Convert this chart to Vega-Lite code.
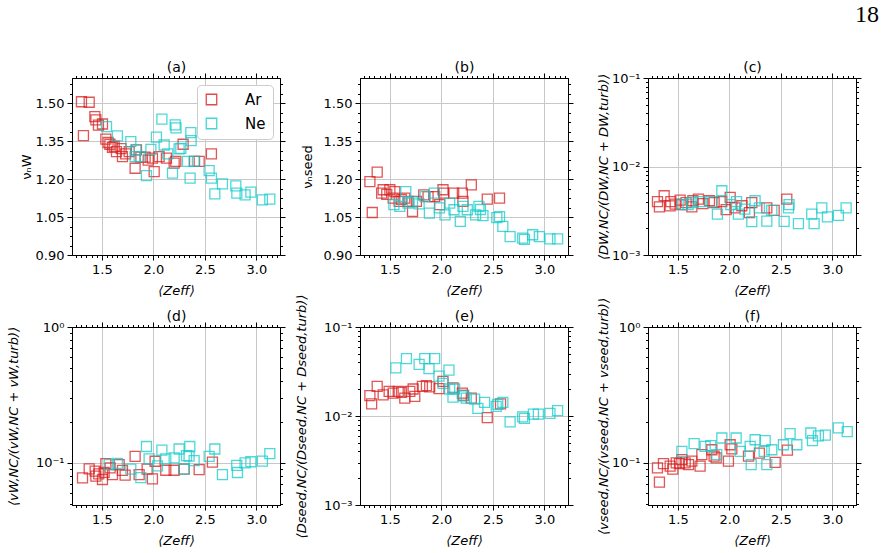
{
  "$schema": "https://vega.github.io/schema/vega-lite/v6.json",
  "padding": {"left": 6, "top": 3, "right": 0, "bottom": 0},
  "background": "white",
  "title": {"text": "18", "anchor": "end", "font": "Liberation Serif", "fontSize": 24, "fontWeight": "normal", "offset": 33, "dx": 17},
  "config": {
    "font": "DejaVu Sans",
    "view": {"stroke": "black", "strokeWidth": 1},
    "axis": {
      "labelFont": "DejaVu Sans", "labelFontSize": 13, "labelColor": "black",
      "titleFont": "DejaVu Sans", "titleFontSize": 13, "titleFontWeight": "normal", "titleColor": "black",
      "domainColor": "black", "domainWidth": 1, "tickColor": "black", "tickWidth": 1,
      "gridColor": "#c8c8c8", "gridWidth": 1, "labelPadding": 3
    }
  },
  "datasets": {
    "a": [
      {"z":1.302,"v":1.506,"gas":"Ar"},{"z":1.377,"v":1.504,"gas":"Ar"},{"z":1.321,"v":1.372,"gas":"Ar"},{"z":1.432,"v":1.447,"gas":"Ar"},{"z":1.442,"v":1.434,"gas":"Ar"},{"z":1.467,"v":1.414,"gas":"Ar"},{"z":1.506,"v":1.418,"gas":"Ar"},{"z":1.539,"v":1.358,"gas":"Ar"},{"z":1.56,"v":1.345,"gas":"Ar"},{"z":1.578,"v":1.338,"gas":"Ar"},{"z":1.603,"v":1.326,"gas":"Ar"},{"z":1.62,"v":1.33,"gas":"Ar"},{"z":1.642,"v":1.309,"gas":"Ar"},{"z":1.687,"v":1.321,"gas":"Ar"},{"z":1.700,"v":1.289,"gas":"Ar"},{"z":1.73,"v":1.30,"gas":"Ar"},{"z":1.765,"v":1.309,"gas":"Ar"},{"z":1.823,"v":1.243,"gas":"Ar"},{"z":1.836,"v":1.316,"gas":"Ar"},{"z":1.879,"v":1.287,"gas":"Ar"},{"z":1.920,"v":1.287,"gas":"Ar"},{"z":1.95,"v":1.275,"gas":"Ar"},{"z":1.991,"v":1.283,"gas":"Ar"},{"z":2.008,"v":1.230,"gas":"Ar"},{"z":2.056,"v":1.289,"gas":"Ar"},{"z":2.127,"v":1.283,"gas":"Ar"},{"z":2.202,"v":1.263,"gas":"Ar"},{"z":2.218,"v":1.270,"gas":"Ar"},{"z":2.289,"v":1.338,"gas":"Ar"},{"z":2.40,"v":1.27,"gas":"Ar"},{"z":2.445,"v":1.270,"gas":"Ar"},{"z":2.564,"v":1.300,"gas":"Ar"},
      {"z":1.545,"v":1.408,"gas":"Ne"},{"z":1.651,"v":1.371,"gas":"Ne"},{"z":1.781,"v":1.348,"gas":"Ne"},{"z":1.823,"v":1.289,"gas":"Ne"},{"z":1.830,"v":1.316,"gas":"Ne"},{"z":1.862,"v":1.289,"gas":"Ne"},{"z":1.933,"v":1.214,"gas":"Ne"},{"z":1.976,"v":1.318,"gas":"Ne"},{"z":2.030,"v":1.366,"gas":"Ne"},{"z":2.083,"v":1.437,"gas":"Ne"},{"z":2.105,"v":1.335,"gas":"Ne"},{"z":2.14,"v":1.30,"gas":"Ne"},{"z":2.186,"v":1.224,"gas":"Ne"},{"z":2.212,"v":1.415,"gas":"Ne"},{"z":2.220,"v":1.403,"gas":"Ne"},{"z":2.250,"v":1.320,"gas":"Ne"},{"z":2.267,"v":1.322,"gas":"Ne"},{"z":2.331,"v":1.270,"gas":"Ne"},{"z":2.357,"v":1.204,"gas":"Ne"},{"z":2.364,"v":1.384,"gas":"Ne"},{"z":2.367,"v":1.352,"gas":"Ne"},{"z":2.396,"v":1.270,"gas":"Ne"},{"z":2.542,"v":1.234,"gas":"Ne"},{"z":2.564,"v":1.204,"gas":"Ne"},{"z":2.597,"v":1.142,"gas":"Ne"},{"z":2.671,"v":1.181,"gas":"Ne"},{"z":2.801,"v":1.173,"gas":"Ne"},{"z":2.811,"v":1.145,"gas":"Ne"},{"z":2.891,"v":1.138,"gas":"Ne"},{"z":2.947,"v":1.149,"gas":"Ne"},{"z":3.059,"v":1.118,"gas":"Ne"},{"z":3.131,"v":1.121,"gas":"Ne"}
    ],
    "b": [
      {"z":1.306,"v":1.190,"gas":"Ar"},{"z":1.377,"v":1.228,"gas":"Ar"},{"z":1.329,"v":1.068,"gas":"Ar"},{"z":1.435,"v":1.158,"gas":"Ar"},{"z":1.420,"v":1.145,"gas":"Ar"},{"z":1.47,"v":1.14,"gas":"Ar"},{"z":1.500,"v":1.158,"gas":"Ar"},{"z":1.548,"v":1.151,"gas":"Ar"},{"z":1.532,"v":1.125,"gas":"Ar"},{"z":1.590,"v":1.112,"gas":"Ar"},{"z":1.61,"v":1.12,"gas":"Ar"},{"z":1.645,"v":1.125,"gas":"Ar"},{"z":1.677,"v":1.112,"gas":"Ar"},{"z":1.720,"v":1.072,"gas":"Ar"},{"z":1.758,"v":1.112,"gas":"Ar"},{"z":1.829,"v":1.138,"gas":"Ar"},{"z":1.871,"v":1.131,"gas":"Ar"},{"z":1.935,"v":1.131,"gas":"Ar"},{"z":1.984,"v":1.099,"gas":"Ar"},{"z":2.016,"v":1.158,"gas":"Ar"},{"z":2.023,"v":1.145,"gas":"Ar"},{"z":2.120,"v":1.145,"gas":"Ar"},{"z":2.204,"v":1.145,"gas":"Ar"},{"z":2.210,"v":1.112,"gas":"Ar"},{"z":2.291,"v":1.177,"gas":"Ar"},{"z":2.446,"v":1.121,"gas":"Ar"},{"z":2.565,"v":1.125,"gas":"Ar"},
      {"z":1.539,"v":1.099,"gas":"Ne"},{"z":1.597,"v":1.092,"gas":"Ne"},{"z":1.655,"v":1.151,"gas":"Ne"},{"z":1.677,"v":1.105,"gas":"Ne"},{"z":1.72,"v":1.11,"gas":"Ne"},{"z":1.784,"v":1.102,"gas":"Ne"},{"z":1.842,"v":1.131,"gas":"Ne"},{"z":1.884,"v":1.066,"gas":"Ne"},{"z":1.932,"v":1.145,"gas":"Ne"},{"z":1.981,"v":1.086,"gas":"Ne"},{"z":2.036,"v":1.059,"gas":"Ne"},{"z":2.081,"v":1.105,"gas":"Ne"},{"z":2.123,"v":1.079,"gas":"Ne"},{"z":2.184,"v":1.033,"gas":"Ne"},{"z":2.210,"v":1.092,"gas":"Ne"},{"z":2.252,"v":1.079,"gas":"Ne"},{"z":2.333,"v":1.059,"gas":"Ne"},{"z":2.365,"v":1.092,"gas":"Ne"},{"z":2.38,"v":1.08,"gas":"Ne"},{"z":2.404,"v":1.056,"gas":"Ne"},{"z":2.539,"v":1.048,"gas":"Ne"},{"z":2.565,"v":1.052,"gas":"Ne"},{"z":2.597,"v":1.013,"gas":"Ne"},{"z":2.668,"v":0.973,"gas":"Ne"},{"z":2.790,"v":0.967,"gas":"Ne"},{"z":2.807,"v":0.962,"gas":"Ne"},{"z":2.887,"v":0.980,"gas":"Ne"},{"z":2.952,"v":0.973,"gas":"Ne"},{"z":3.055,"v":0.964,"gas":"Ne"},{"z":3.129,"v":0.964,"gas":"Ne"}
    ],
    "c": [
      {"z":1.302,"v":0.00402,"gas":"Ar"},{"z":1.321,"v":0.0035,"gas":"Ar"},{"z":1.367,"v":0.00467,"gas":"Ar"},{"z":1.432,"v":0.00402,"gas":"Ar"},{"z":1.425,"v":0.00359,"gas":"Ar"},{"z":1.474,"v":0.00376,"gas":"Ar"},{"z":1.522,"v":0.00417,"gas":"Ar"},{"z":1.539,"v":0.0037,"gas":"Ar"},{"z":1.58,"v":0.0039,"gas":"Ar"},{"z":1.636,"v":0.0035,"gas":"Ar"},{"z":1.646,"v":0.0041,"gas":"Ar"},{"z":1.700,"v":0.00428,"gas":"Ar"},{"z":1.743,"v":0.0038,"gas":"Ar"},{"z":1.807,"v":0.0041,"gas":"Ar"},{"z":1.852,"v":0.0039,"gas":"Ar"},{"z":1.927,"v":0.0040,"gas":"Ar"},{"z":1.969,"v":0.00326,"gas":"Ar"},{"z":2.008,"v":0.00447,"gas":"Ar"},{"z":2.056,"v":0.0034,"gas":"Ar"},{"z":2.121,"v":0.0036,"gas":"Ar"},{"z":2.195,"v":0.00301,"gas":"Ar"},{"z":2.218,"v":0.0039,"gas":"Ar"},{"z":2.364,"v":0.0034,"gas":"Ar"},{"z":2.435,"v":0.0032,"gas":"Ar"},{"z":2.558,"v":0.00428,"gas":"Ar"},
      {"z":1.539,"v":0.0037,"gas":"Ne"},{"z":1.60,"v":0.0037,"gas":"Ne"},{"z":1.636,"v":0.0039,"gas":"Ne"},{"z":1.716,"v":0.0040,"gas":"Ne"},{"z":1.830,"v":0.0040,"gas":"Ne"},{"z":1.884,"v":0.00289,"gas":"Ne"},{"z":1.927,"v":0.00532,"gas":"Ne"},{"z":2.014,"v":0.0037,"gas":"Ne"},{"z":2.070,"v":0.0040,"gas":"Ne"},{"z":2.088,"v":0.0029,"gas":"Ne"},{"z":2.15,"v":0.0033,"gas":"Ne"},{"z":2.218,"v":0.00238,"gas":"Ne"},{"z":2.250,"v":0.0041,"gas":"Ne"},{"z":2.292,"v":0.0034,"gas":"Ne"},{"z":2.364,"v":0.00242,"gas":"Ne"},{"z":2.412,"v":0.0032,"gas":"Ne"},{"z":2.532,"v":0.0024,"gas":"Ne"},{"z":2.574,"v":0.0034,"gas":"Ne"},{"z":2.580,"v":0.0037,"gas":"Ne"},{"z":2.671,"v":0.00226,"gas":"Ne"},{"z":2.800,"v":0.0029,"gas":"Ne"},{"z":2.823,"v":0.00226,"gas":"Ne"},{"z":2.898,"v":0.0034,"gas":"Ne"},{"z":2.953,"v":0.0027,"gas":"Ne"},{"z":3.059,"v":0.0028,"gas":"Ne"},{"z":3.134,"v":0.0034,"gas":"Ne"}
    ],
    "d": [
      {"z":1.312,"v":0.0776,"gas":"Ar"},{"z":1.377,"v":0.0903,"gas":"Ar"},{"z":1.435,"v":0.0869,"gas":"Ar"},{"z":1.442,"v":0.0798,"gas":"Ar"},{"z":1.47,"v":0.083,"gas":"Ar"},{"z":1.506,"v":0.0755,"gas":"Ar"},{"z":1.522,"v":0.0853,"gas":"Ar"},{"z":1.539,"v":0.0988,"gas":"Ar"},{"z":1.58,"v":0.092,"gas":"Ar"},{"z":1.603,"v":0.082,"gas":"Ar"},{"z":1.668,"v":0.0972,"gas":"Ar"},{"z":1.70,"v":0.088,"gas":"Ar"},{"z":1.726,"v":0.0813,"gas":"Ar"},{"z":1.823,"v":0.1117,"gas":"Ar"},{"z":1.862,"v":0.082,"gas":"Ar"},{"z":1.94,"v":0.09,"gas":"Ar"},{"z":1.991,"v":0.0764,"gas":"Ar"},{"z":2.017,"v":0.1028,"gas":"Ar"},{"z":2.121,"v":0.0883,"gas":"Ar"},{"z":2.202,"v":0.0883,"gas":"Ar"},{"z":2.299,"v":0.090,"gas":"Ar"},{"z":2.445,"v":0.0893,"gas":"Ar"},{"z":2.574,"v":0.1014,"gas":"Ar"},
      {"z":1.571,"v":0.097,"gas":"Ne"},{"z":1.651,"v":0.099,"gas":"Ne"},{"z":1.781,"v":0.090,"gas":"Ne"},{"z":1.879,"v":0.078,"gas":"Ne"},{"z":1.933,"v":0.132,"gas":"Ne"},{"z":1.959,"v":0.107,"gas":"Ne"},{"z":2.040,"v":0.095,"gas":"Ne"},{"z":2.083,"v":0.124,"gas":"Ne"},{"z":2.121,"v":0.107,"gas":"Ne"},{"z":2.202,"v":0.109,"gas":"Ne"},{"z":2.250,"v":0.1265,"gas":"Ne"},{"z":2.299,"v":0.090,"gas":"Ne"},{"z":2.322,"v":0.113,"gas":"Ne"},{"z":2.347,"v":0.112,"gas":"Ne"},{"z":2.354,"v":0.132,"gas":"Ne"},{"z":2.396,"v":0.104,"gas":"Ne"},{"z":2.542,"v":0.1117,"gas":"Ne"},{"z":2.597,"v":0.1265,"gas":"Ne"},{"z":2.671,"v":0.082,"gas":"Ne"},{"z":2.810,"v":0.096,"gas":"Ne"},{"z":2.817,"v":0.085,"gas":"Ne"},{"z":2.891,"v":0.100,"gas":"Ne"},{"z":2.947,"v":0.102,"gas":"Ne"},{"z":3.059,"v":0.103,"gas":"Ne"},{"z":3.131,"v":0.117,"gas":"Ne"}
    ],
    "e": [
      {"z":1.306,"v":0.0169,"gas":"Ar"},{"z":1.323,"v":0.0137,"gas":"Ar"},{"z":1.377,"v":0.0215,"gas":"Ar"},{"z":1.435,"v":0.0173,"gas":"Ar"},{"z":1.493,"v":0.0189,"gas":"Ar"},{"z":1.532,"v":0.0181,"gas":"Ar"},{"z":1.581,"v":0.0189,"gas":"Ar"},{"z":1.613,"v":0.0184,"gas":"Ar"},{"z":1.645,"v":0.0159,"gas":"Ar"},{"z":1.694,"v":0.0189,"gas":"Ar"},{"z":1.726,"v":0.0201,"gas":"Ar"},{"z":1.742,"v":0.0166,"gas":"Ar"},{"z":1.816,"v":0.0215,"gas":"Ar"},{"z":1.855,"v":0.0219,"gas":"Ar"},{"z":1.887,"v":0.0212,"gas":"Ar"},{"z":1.977,"v":0.0203,"gas":"Ar"},{"z":2.016,"v":0.0245,"gas":"Ar"},{"z":2.113,"v":0.0207,"gas":"Ar"},{"z":2.204,"v":0.0181,"gas":"Ar"},{"z":2.216,"v":0.017,"gas":"Ar"},{"z":2.291,"v":0.0159,"gas":"Ar"},{"z":2.446,"v":0.0096,"gas":"Ar"},{"z":2.575,"v":0.0137,"gas":"Ar"},
      {"z":1.558,"v":0.0348,"gas":"Ne"},{"z":1.661,"v":0.0441,"gas":"Ne"},{"z":1.784,"v":0.038,"gas":"Ne"},{"z":1.839,"v":0.0441,"gas":"Ne"},{"z":1.880,"v":0.034,"gas":"Ne"},{"z":1.935,"v":0.0441,"gas":"Ne"},{"z":1.977,"v":0.028,"gas":"Ne"},{"z":2.016,"v":0.0232,"gas":"Ne"},{"z":2.074,"v":0.0327,"gas":"Ne"},{"z":2.081,"v":0.0201,"gas":"Ne"},{"z":2.113,"v":0.0163,"gas":"Ne"},{"z":2.129,"v":0.0201,"gas":"Ne"},{"z":2.210,"v":0.017,"gas":"Ne"},{"z":2.242,"v":0.0159,"gas":"Ne"},{"z":2.323,"v":0.0155,"gas":"Ne"},{"z":2.355,"v":0.0122,"gas":"Ne"},{"z":2.420,"v":0.0142,"gas":"Ne"},{"z":2.533,"v":0.0128,"gas":"Ne"},{"z":2.548,"v":0.0135,"gas":"Ne"},{"z":2.597,"v":0.0142,"gas":"Ne"},{"z":2.668,"v":0.0086,"gas":"Ne"},{"z":2.790,"v":0.0098,"gas":"Ne"},{"z":2.807,"v":0.0094,"gas":"Ne"},{"z":2.894,"v":0.0105,"gas":"Ne"},{"z":2.942,"v":0.0105,"gas":"Ne"},{"z":3.055,"v":0.0107,"gas":"Ne"},{"z":3.129,"v":0.0115,"gas":"Ne"}
    ],
    "f": [
      {"z":1.302,"v":0.0919,"gas":"Ar"},{"z":1.321,"v":0.0721,"gas":"Ar"},{"z":1.360,"v":0.0988,"gas":"Ar"},{"z":1.425,"v":0.0947,"gas":"Ar"},{"z":1.451,"v":0.090,"gas":"Ar"},{"z":1.484,"v":0.100,"gas":"Ar"},{"z":1.516,"v":0.0988,"gas":"Ar"},{"z":1.539,"v":0.1058,"gas":"Ar"},{"z":1.571,"v":0.100,"gas":"Ar"},{"z":1.603,"v":0.097,"gas":"Ar"},{"z":1.636,"v":0.103,"gas":"Ar"},{"z":1.716,"v":0.0947,"gas":"Ar"},{"z":1.733,"v":0.115,"gas":"Ar"},{"z":1.830,"v":0.125,"gas":"Ar"},{"z":1.852,"v":0.112,"gas":"Ar"},{"z":1.872,"v":0.109,"gas":"Ar"},{"z":1.991,"v":0.103,"gas":"Ar"},{"z":2.008,"v":0.136,"gas":"Ar"},{"z":2.024,"v":0.127,"gas":"Ar"},{"z":2.186,"v":0.112,"gas":"Ar"},{"z":2.292,"v":0.118,"gas":"Ar"},{"z":2.445,"v":0.101,"gas":"Ar"},{"z":2.564,"v":0.124,"gas":"Ar"},
      {"z":1.539,"v":0.1216,"gas":"Ne"},{"z":1.658,"v":0.1385,"gas":"Ne"},{"z":1.765,"v":0.1325,"gas":"Ne"},{"z":1.820,"v":0.134,"gas":"Ne"},{"z":1.878,"v":0.115,"gas":"Ne"},{"z":1.927,"v":0.1525,"gas":"Ne"},{"z":2.066,"v":0.1525,"gas":"Ne"},{"z":2.105,"v":0.1216,"gas":"Ne"},{"z":2.202,"v":0.1325,"gas":"Ne"},{"z":2.212,"v":0.097,"gas":"Ne"},{"z":2.250,"v":0.148,"gas":"Ne"},{"z":2.338,"v":0.1216,"gas":"Ne"},{"z":2.348,"v":0.146,"gas":"Ne"},{"z":2.364,"v":0.097,"gas":"Ne"},{"z":2.412,"v":0.125,"gas":"Ne"},{"z":2.525,"v":0.136,"gas":"Ne"},{"z":2.590,"v":0.164,"gas":"Ne"},{"z":2.655,"v":0.136,"gas":"Ne"},{"z":2.791,"v":0.166,"gas":"Ne"},{"z":2.807,"v":0.146,"gas":"Ne"},{"z":2.865,"v":0.158,"gas":"Ne"},{"z":2.932,"v":0.160,"gas":"Ne"},{"z":3.058,"v":0.181,"gas":"Ne"},{"z":3.145,"v":0.170,"gas":"Ne"}
    ]
  },
  "columns": 3,
  "spacing": {"row": 72, "column": 80},
  "bounds": "flush",
  "resolve": {"scale": {"color": "independent"}, "legend": {"color": "independent"}},
  "concat": [
    {
      "width": 208, "height": 177, "data": {"name": "a"},
      "resolve": {"axis": {"x": "independent", "y": "independent"}},
      "layer": [
        {
          "mark": {"type": "point", "shape": "square", "filled": false, "size": 100, "strokeWidth": 1.3, "opacity": 0.75},
          "encoding": {
            "x": {"field": "z", "type": "quantitative", "scale": {"domain": [1.21, 3.23], "nice": false, "zero": false},
              "axis": {"title": "⟨Zeff⟩", "titleFontStyle": "italic", "titlePadding": 8, "values": [1.25,1.3,1.35,1.4,1.45,1.5,1.55,1.6,1.65,1.7,1.75,1.8,1.85,1.9,1.95,2,2.05,2.1,2.15,2.2,2.25,2.3,2.35,2.4,2.45,2.5,2.55,2.6,2.65,2.7,2.75,2.8,2.85,2.9,2.95,3,3.05,3.1,3.15,3.2],
                "labelExpr": "abs(datum.value*2 - round(datum.value*2)) < 0.01 ? format(datum.value, '.1f') : ''", "labelOverlap": false, "labelFlush": false, "grid": true,
                "gridOpacity": {"condition": {"test": "abs(datum.value*2 - round(datum.value*2)) < 0.01", "value": 1}, "value": 0},
                "tickSize": {"condition": {"test": "abs(datum.value*2 - round(datum.value*2)) < 0.01", "value": 5}, "value": 2.5}}},
            "y": {"field": "v", "type": "quantitative", "scale": {"domain": [0.9, 1.6], "nice": false, "zero": false},
              "axis": {"title": "νₙW", "titleX": -39, "values": [0.9,0.9375,0.975,1.0125,1.05,1.0875,1.125,1.1625,1.2,1.2375,1.275,1.3125,1.35,1.3875,1.425,1.4625,1.5,1.5375,1.575],
                "labelExpr": "abs((datum.value-0.9)/0.15 - round((datum.value-0.9)/0.15)) < 0.01 ? format(datum.value, '.2f') : ''", "labelOverlap": false, "labelFlush": false, "grid": true,
                "gridOpacity": {"condition": {"test": "abs((datum.value-0.9)/0.15 - round((datum.value-0.9)/0.15)) < 0.01", "value": 1}, "value": 0},
                "tickSize": {"condition": {"test": "abs((datum.value-0.9)/0.15 - round((datum.value-0.9)/0.15)) < 0.01", "value": 5}, "value": 2.5}}},
            "color": {"field": "gas", "type": "nominal", "scale": {"domain": ["Ar", "Ne"], "range": ["#d81e1e", "#14cccc"]},
              "legend": {"title": null, "orient": "top-right", "offset": 7, "fillColor": "white", "strokeColor": "#cccccc", "cornerRadius": 4, "padding": 7, "labelFontSize": 15, "labelFont": "DejaVu Sans", "labelOffset": 26, "symbolSize": 110, "symbolStrokeWidth": 1.3, "symbolOpacity": 0.8, "rowPadding": 7}}
          }
        },
        {
          "mark": {"type": "point", "opacity": 0},
          "encoding": {
            "x": {"field": "z", "type": "quantitative", "scale": {"domain": [1.21, 3.23], "nice": false, "zero": false},
              "axis": {"orient": "top", "title": "(a)", "titleFontSize": 14, "titlePadding": -2, "labels": false, "grid": false, "values": [1.25,1.3,1.35,1.4,1.45,1.5,1.55,1.6,1.65,1.7,1.75,1.8,1.85,1.9,1.95,2,2.05,2.1,2.15,2.2,2.25,2.3,2.35,2.4,2.45,2.5,2.55,2.6,2.65,2.7,2.75,2.8,2.85,2.9,2.95,3,3.05,3.1,3.15,3.2],
                "tickSize": {"condition": {"test": "abs(datum.value*2 - round(datum.value*2)) < 0.01", "value": 5}, "value": 2.5}}},
            "y": {"field": "v", "type": "quantitative", "scale": {"domain": [0.9, 1.6], "nice": false, "zero": false},
              "axis": {"orient": "right", "title": null, "labels": false, "grid": false, "values": [0.9,0.9375,0.975,1.0125,1.05,1.0875,1.125,1.1625,1.2,1.2375,1.275,1.3125,1.35,1.3875,1.425,1.4625,1.5,1.5375,1.575],
                "tickSize": {"condition": {"test": "abs((datum.value-0.9)/0.15 - round((datum.value-0.9)/0.15)) < 0.01", "value": 5}, "value": 2.5}}}
          }
        }
      ]
    },
    {
      "width": 208, "height": 177, "data": {"name": "b"},
      "resolve": {"axis": {"x": "independent", "y": "independent"}},
      "layer": [
        {
          "mark": {"type": "point", "shape": "square", "filled": false, "size": 100, "strokeWidth": 1.3, "opacity": 0.75},
          "encoding": {
            "x": {"field": "z", "type": "quantitative", "scale": {"domain": [1.21, 3.23], "nice": false, "zero": false},
              "axis": {"title": "⟨Zeff⟩", "titleFontStyle": "italic", "titlePadding": 8, "values": [1.25,1.3,1.35,1.4,1.45,1.5,1.55,1.6,1.65,1.7,1.75,1.8,1.85,1.9,1.95,2,2.05,2.1,2.15,2.2,2.25,2.3,2.35,2.4,2.45,2.5,2.55,2.6,2.65,2.7,2.75,2.8,2.85,2.9,2.95,3,3.05,3.1,3.15,3.2],
                "labelExpr": "abs(datum.value*2 - round(datum.value*2)) < 0.01 ? format(datum.value, '.1f') : ''", "labelOverlap": false, "labelFlush": false, "grid": true,
                "gridOpacity": {"condition": {"test": "abs(datum.value*2 - round(datum.value*2)) < 0.01", "value": 1}, "value": 0},
                "tickSize": {"condition": {"test": "abs(datum.value*2 - round(datum.value*2)) < 0.01", "value": 5}, "value": 2.5}}},
            "y": {"field": "v", "type": "quantitative", "scale": {"domain": [0.9, 1.6], "nice": false, "zero": false},
              "axis": {"title": "νₙseed", "titleX": -46, "values": [0.9,0.9375,0.975,1.0125,1.05,1.0875,1.125,1.1625,1.2,1.2375,1.275,1.3125,1.35,1.3875,1.425,1.4625,1.5,1.5375,1.575],
                "labelExpr": "abs((datum.value-0.9)/0.15 - round((datum.value-0.9)/0.15)) < 0.01 ? format(datum.value, '.2f') : ''", "labelOverlap": false, "labelFlush": false, "grid": true,
                "gridOpacity": {"condition": {"test": "abs((datum.value-0.9)/0.15 - round((datum.value-0.9)/0.15)) < 0.01", "value": 1}, "value": 0},
                "tickSize": {"condition": {"test": "abs((datum.value-0.9)/0.15 - round((datum.value-0.9)/0.15)) < 0.01", "value": 5}, "value": 2.5}}},
            "color": {"field": "gas", "type": "nominal", "scale": {"domain": ["Ar", "Ne"], "range": ["#d81e1e", "#14cccc"]}, "legend": null}
          }
        },
        {
          "mark": {"type": "point", "opacity": 0},
          "encoding": {
            "x": {"field": "z", "type": "quantitative", "scale": {"domain": [1.21, 3.23], "nice": false, "zero": false},
              "axis": {"orient": "top", "title": "(b)", "titleFontSize": 14, "titlePadding": -2, "labels": false, "grid": false, "values": [1.25,1.3,1.35,1.4,1.45,1.5,1.55,1.6,1.65,1.7,1.75,1.8,1.85,1.9,1.95,2,2.05,2.1,2.15,2.2,2.25,2.3,2.35,2.4,2.45,2.5,2.55,2.6,2.65,2.7,2.75,2.8,2.85,2.9,2.95,3,3.05,3.1,3.15,3.2],
                "tickSize": {"condition": {"test": "abs(datum.value*2 - round(datum.value*2)) < 0.01", "value": 5}, "value": 2.5}}},
            "y": {"field": "v", "type": "quantitative", "scale": {"domain": [0.9, 1.6], "nice": false, "zero": false},
              "axis": {"orient": "right", "title": null, "labels": false, "grid": false, "values": [0.9,0.9375,0.975,1.0125,1.05,1.0875,1.125,1.1625,1.2,1.2375,1.275,1.3125,1.35,1.3875,1.425,1.4625,1.5,1.5375,1.575],
                "tickSize": {"condition": {"test": "abs((datum.value-0.9)/0.15 - round((datum.value-0.9)/0.15)) < 0.01", "value": 5}, "value": 2.5}}}
          }
        }
      ]
    },
    {
      "width": 208, "height": 177, "data": {"name": "c"},
      "resolve": {"axis": {"x": "independent", "y": "independent"}},
      "layer": [
        {
          "mark": {"type": "point", "shape": "square", "filled": false, "size": 100, "strokeWidth": 1.3, "opacity": 0.75},
          "encoding": {
            "x": {"field": "z", "type": "quantitative", "scale": {"domain": [1.21, 3.23], "nice": false, "zero": false},
              "axis": {"title": "⟨Zeff⟩", "titleFontStyle": "italic", "titlePadding": 8, "values": [1.25,1.3,1.35,1.4,1.45,1.5,1.55,1.6,1.65,1.7,1.75,1.8,1.85,1.9,1.95,2,2.05,2.1,2.15,2.2,2.25,2.3,2.35,2.4,2.45,2.5,2.55,2.6,2.65,2.7,2.75,2.8,2.85,2.9,2.95,3,3.05,3.1,3.15,3.2],
                "labelExpr": "abs(datum.value*2 - round(datum.value*2)) < 0.01 ? format(datum.value, '.1f') : ''", "labelOverlap": false, "labelFlush": false, "grid": true,
                "gridOpacity": {"condition": {"test": "abs(datum.value*2 - round(datum.value*2)) < 0.01", "value": 1}, "value": 0},
                "tickSize": {"condition": {"test": "abs(datum.value*2 - round(datum.value*2)) < 0.01", "value": 5}, "value": 2.5}}},
            "y": {"field": "v", "type": "quantitative", "scale": {"type": "log", "domain": [0.001, 0.1], "nice": false},
              "axis": {"title": "⟨DW,NC/(DW,NC + DW,turb)⟩", "titleFontStyle": "italic", "titleX": -38, "values": [0.001,0.002,0.003,0.004,0.005,0.006,0.007,0.008,0.009,0.01,0.02,0.03,0.04,0.05,0.06,0.07,0.08,0.09,0.1],
                "labelExpr": "abs(log(datum.value)/LN10 - round(log(datum.value)/LN10)) < 0.01 ? '10' + ['⁰','⁻¹','⁻²','⁻³'][-round(log(datum.value)/LN10)] : ''", "labelOverlap": false, "labelFlush": false, "grid": true,
                "gridOpacity": {"condition": {"test": "abs(log(datum.value)/LN10 - round(log(datum.value)/LN10)) < 0.01", "value": 1}, "value": 0},
                "tickSize": {"condition": {"test": "abs(log(datum.value)/LN10 - round(log(datum.value)/LN10)) < 0.01", "value": 5}, "value": 2.5}}},
            "color": {"field": "gas", "type": "nominal", "scale": {"domain": ["Ar", "Ne"], "range": ["#d81e1e", "#14cccc"]}, "legend": null}
          }
        },
        {
          "mark": {"type": "point", "opacity": 0},
          "encoding": {
            "x": {"field": "z", "type": "quantitative", "scale": {"domain": [1.21, 3.23], "nice": false, "zero": false},
              "axis": {"orient": "top", "title": "(c)", "titleFontSize": 14, "titlePadding": -2, "labels": false, "grid": false, "values": [1.25,1.3,1.35,1.4,1.45,1.5,1.55,1.6,1.65,1.7,1.75,1.8,1.85,1.9,1.95,2,2.05,2.1,2.15,2.2,2.25,2.3,2.35,2.4,2.45,2.5,2.55,2.6,2.65,2.7,2.75,2.8,2.85,2.9,2.95,3,3.05,3.1,3.15,3.2],
                "tickSize": {"condition": {"test": "abs(datum.value*2 - round(datum.value*2)) < 0.01", "value": 5}, "value": 2.5}}},
            "y": {"field": "v", "type": "quantitative", "scale": {"type": "log", "domain": [0.001, 0.1], "nice": false},
              "axis": {"orient": "right", "title": null, "labels": false, "grid": false, "values": [0.001,0.002,0.003,0.004,0.005,0.006,0.007,0.008,0.009,0.01,0.02,0.03,0.04,0.05,0.06,0.07,0.08,0.09,0.1],
                "tickSize": {"condition": {"test": "abs(log(datum.value)/LN10 - round(log(datum.value)/LN10)) < 0.01", "value": 5}, "value": 2.5}}}
          }
        }
      ]
    },
    {
      "width": 208, "height": 178, "data": {"name": "d"},
      "resolve": {"axis": {"x": "independent", "y": "independent"}},
      "layer": [
        {
          "mark": {"type": "point", "shape": "square", "filled": false, "size": 100, "strokeWidth": 1.3, "opacity": 0.75},
          "encoding": {
            "x": {"field": "z", "type": "quantitative", "scale": {"domain": [1.21, 3.23], "nice": false, "zero": false},
              "axis": {"title": "⟨Zeff⟩", "titleFontStyle": "italic", "titlePadding": 8, "values": [1.25,1.3,1.35,1.4,1.45,1.5,1.55,1.6,1.65,1.7,1.75,1.8,1.85,1.9,1.95,2,2.05,2.1,2.15,2.2,2.25,2.3,2.35,2.4,2.45,2.5,2.55,2.6,2.65,2.7,2.75,2.8,2.85,2.9,2.95,3,3.05,3.1,3.15,3.2],
                "labelExpr": "abs(datum.value*2 - round(datum.value*2)) < 0.01 ? format(datum.value, '.1f') : ''", "labelOverlap": false, "labelFlush": false, "grid": true,
                "gridOpacity": {"condition": {"test": "abs(datum.value*2 - round(datum.value*2)) < 0.01", "value": 1}, "value": 0},
                "tickSize": {"condition": {"test": "abs(datum.value*2 - round(datum.value*2)) < 0.01", "value": 5}, "value": 2.5}}},
            "y": {"field": "v", "type": "quantitative", "scale": {"type": "log", "domain": [0.049, 1], "nice": false},
              "axis": {"title": "⟨vW,NC/(vW,NC + vW,turb)⟩", "titleFontStyle": "italic", "titleX": -52, "values": [0.05,0.06,0.07,0.08,0.09,0.1,0.2,0.3,0.4,0.5,0.6,0.7,0.8,0.9,1],
                "labelExpr": "abs(log(datum.value)/LN10 - round(log(datum.value)/LN10)) < 0.01 ? '10' + ['⁰','⁻¹','⁻²','⁻³'][-round(log(datum.value)/LN10)] : ''", "labelOverlap": false, "labelFlush": false, "grid": true,
                "gridOpacity": {"condition": {"test": "abs(log(datum.value)/LN10 - round(log(datum.value)/LN10)) < 0.01", "value": 1}, "value": 0},
                "tickSize": {"condition": {"test": "abs(log(datum.value)/LN10 - round(log(datum.value)/LN10)) < 0.01", "value": 5}, "value": 2.5}}},
            "color": {"field": "gas", "type": "nominal", "scale": {"domain": ["Ar", "Ne"], "range": ["#d81e1e", "#14cccc"]}, "legend": null}
          }
        },
        {
          "mark": {"type": "point", "opacity": 0},
          "encoding": {
            "x": {"field": "z", "type": "quantitative", "scale": {"domain": [1.21, 3.23], "nice": false, "zero": false},
              "axis": {"orient": "top", "title": "(d)", "titleFontSize": 14, "titlePadding": -2, "labels": false, "grid": false, "values": [1.25,1.3,1.35,1.4,1.45,1.5,1.55,1.6,1.65,1.7,1.75,1.8,1.85,1.9,1.95,2,2.05,2.1,2.15,2.2,2.25,2.3,2.35,2.4,2.45,2.5,2.55,2.6,2.65,2.7,2.75,2.8,2.85,2.9,2.95,3,3.05,3.1,3.15,3.2],
                "tickSize": {"condition": {"test": "abs(datum.value*2 - round(datum.value*2)) < 0.01", "value": 5}, "value": 2.5}}},
            "y": {"field": "v", "type": "quantitative", "scale": {"type": "log", "domain": [0.049, 1], "nice": false},
              "axis": {"orient": "right", "title": null, "labels": false, "grid": false, "values": [0.05,0.06,0.07,0.08,0.09,0.1,0.2,0.3,0.4,0.5,0.6,0.7,0.8,0.9,1],
                "tickSize": {"condition": {"test": "abs(log(datum.value)/LN10 - round(log(datum.value)/LN10)) < 0.01", "value": 5}, "value": 2.5}}}
          }
        }
      ]
    },
    {
      "width": 208, "height": 178, "data": {"name": "e"},
      "resolve": {"axis": {"x": "independent", "y": "independent"}},
      "layer": [
        {
          "mark": {"type": "point", "shape": "square", "filled": false, "size": 100, "strokeWidth": 1.3, "opacity": 0.75},
          "encoding": {
            "x": {"field": "z", "type": "quantitative", "scale": {"domain": [1.21, 3.23], "nice": false, "zero": false},
              "axis": {"title": "⟨Zeff⟩", "titleFontStyle": "italic", "titlePadding": 8, "values": [1.25,1.3,1.35,1.4,1.45,1.5,1.55,1.6,1.65,1.7,1.75,1.8,1.85,1.9,1.95,2,2.05,2.1,2.15,2.2,2.25,2.3,2.35,2.4,2.45,2.5,2.55,2.6,2.65,2.7,2.75,2.8,2.85,2.9,2.95,3,3.05,3.1,3.15,3.2],
                "labelExpr": "abs(datum.value*2 - round(datum.value*2)) < 0.01 ? format(datum.value, '.1f') : ''", "labelOverlap": false, "labelFlush": false, "grid": true,
                "gridOpacity": {"condition": {"test": "abs(datum.value*2 - round(datum.value*2)) < 0.01", "value": 1}, "value": 0},
                "tickSize": {"condition": {"test": "abs(datum.value*2 - round(datum.value*2)) < 0.01", "value": 5}, "value": 2.5}}},
            "y": {"field": "v", "type": "quantitative", "scale": {"type": "log", "domain": [0.001, 0.1], "nice": false},
              "axis": {"title": "⟨Dseed,NC/(Dseed,NC + Dseed,turb)⟩", "titleFontStyle": "italic", "titleX": -52, "values": [0.001,0.002,0.003,0.004,0.005,0.006,0.007,0.008,0.009,0.01,0.02,0.03,0.04,0.05,0.06,0.07,0.08,0.09,0.1],
                "labelExpr": "abs(log(datum.value)/LN10 - round(log(datum.value)/LN10)) < 0.01 ? '10' + ['⁰','⁻¹','⁻²','⁻³'][-round(log(datum.value)/LN10)] : ''", "labelOverlap": false, "labelFlush": false, "grid": true,
                "gridOpacity": {"condition": {"test": "abs(log(datum.value)/LN10 - round(log(datum.value)/LN10)) < 0.01", "value": 1}, "value": 0},
                "tickSize": {"condition": {"test": "abs(log(datum.value)/LN10 - round(log(datum.value)/LN10)) < 0.01", "value": 5}, "value": 2.5}}},
            "color": {"field": "gas", "type": "nominal", "scale": {"domain": ["Ar", "Ne"], "range": ["#d81e1e", "#14cccc"]}, "legend": null}
          }
        },
        {
          "mark": {"type": "point", "opacity": 0},
          "encoding": {
            "x": {"field": "z", "type": "quantitative", "scale": {"domain": [1.21, 3.23], "nice": false, "zero": false},
              "axis": {"orient": "top", "title": "(e)", "titleFontSize": 14, "titlePadding": -2, "labels": false, "grid": false, "values": [1.25,1.3,1.35,1.4,1.45,1.5,1.55,1.6,1.65,1.7,1.75,1.8,1.85,1.9,1.95,2,2.05,2.1,2.15,2.2,2.25,2.3,2.35,2.4,2.45,2.5,2.55,2.6,2.65,2.7,2.75,2.8,2.85,2.9,2.95,3,3.05,3.1,3.15,3.2],
                "tickSize": {"condition": {"test": "abs(datum.value*2 - round(datum.value*2)) < 0.01", "value": 5}, "value": 2.5}}},
            "y": {"field": "v", "type": "quantitative", "scale": {"type": "log", "domain": [0.001, 0.1], "nice": false},
              "axis": {"orient": "right", "title": null, "labels": false, "grid": false, "values": [0.001,0.002,0.003,0.004,0.005,0.006,0.007,0.008,0.009,0.01,0.02,0.03,0.04,0.05,0.06,0.07,0.08,0.09,0.1],
                "tickSize": {"condition": {"test": "abs(log(datum.value)/LN10 - round(log(datum.value)/LN10)) < 0.01", "value": 5}, "value": 2.5}}}
          }
        }
      ]
    },
    {
      "width": 208, "height": 178, "data": {"name": "f"},
      "resolve": {"axis": {"x": "independent", "y": "independent"}},
      "layer": [
        {
          "mark": {"type": "point", "shape": "square", "filled": false, "size": 100, "strokeWidth": 1.3, "opacity": 0.75},
          "encoding": {
            "x": {"field": "z", "type": "quantitative", "scale": {"domain": [1.21, 3.23], "nice": false, "zero": false},
              "axis": {"title": "⟨Zeff⟩", "titleFontStyle": "italic", "titlePadding": 8, "values": [1.25,1.3,1.35,1.4,1.45,1.5,1.55,1.6,1.65,1.7,1.75,1.8,1.85,1.9,1.95,2,2.05,2.1,2.15,2.2,2.25,2.3,2.35,2.4,2.45,2.5,2.55,2.6,2.65,2.7,2.75,2.8,2.85,2.9,2.95,3,3.05,3.1,3.15,3.2],
                "labelExpr": "abs(datum.value*2 - round(datum.value*2)) < 0.01 ? format(datum.value, '.1f') : ''", "labelOverlap": false, "labelFlush": false, "grid": true,
                "gridOpacity": {"condition": {"test": "abs(datum.value*2 - round(datum.value*2)) < 0.01", "value": 1}, "value": 0},
                "tickSize": {"condition": {"test": "abs(datum.value*2 - round(datum.value*2)) < 0.01", "value": 5}, "value": 2.5}}},
            "y": {"field": "v", "type": "quantitative", "scale": {"type": "log", "domain": [0.049, 1], "nice": false},
              "axis": {"title": "⟨vseed,NC/(vseed,NC + vseed,turb)⟩", "titleFontStyle": "italic", "titleX": -38, "values": [0.05,0.06,0.07,0.08,0.09,0.1,0.2,0.3,0.4,0.5,0.6,0.7,0.8,0.9,1],
                "labelExpr": "abs(log(datum.value)/LN10 - round(log(datum.value)/LN10)) < 0.01 ? '10' + ['⁰','⁻¹','⁻²','⁻³'][-round(log(datum.value)/LN10)] : ''", "labelOverlap": false, "labelFlush": false, "grid": true,
                "gridOpacity": {"condition": {"test": "abs(log(datum.value)/LN10 - round(log(datum.value)/LN10)) < 0.01", "value": 1}, "value": 0},
                "tickSize": {"condition": {"test": "abs(log(datum.value)/LN10 - round(log(datum.value)/LN10)) < 0.01", "value": 5}, "value": 2.5}}},
            "color": {"field": "gas", "type": "nominal", "scale": {"domain": ["Ar", "Ne"], "range": ["#d81e1e", "#14cccc"]}, "legend": null}
          }
        },
        {
          "mark": {"type": "point", "opacity": 0},
          "encoding": {
            "x": {"field": "z", "type": "quantitative", "scale": {"domain": [1.21, 3.23], "nice": false, "zero": false},
              "axis": {"orient": "top", "title": "(f)", "titleFontSize": 14, "titlePadding": -2, "labels": false, "grid": false, "values": [1.25,1.3,1.35,1.4,1.45,1.5,1.55,1.6,1.65,1.7,1.75,1.8,1.85,1.9,1.95,2,2.05,2.1,2.15,2.2,2.25,2.3,2.35,2.4,2.45,2.5,2.55,2.6,2.65,2.7,2.75,2.8,2.85,2.9,2.95,3,3.05,3.1,3.15,3.2],
                "tickSize": {"condition": {"test": "abs(datum.value*2 - round(datum.value*2)) < 0.01", "value": 5}, "value": 2.5}}},
            "y": {"field": "v", "type": "quantitative", "scale": {"type": "log", "domain": [0.049, 1], "nice": false},
              "axis": {"orient": "right", "title": null, "labels": false, "grid": false, "values": [0.05,0.06,0.07,0.08,0.09,0.1,0.2,0.3,0.4,0.5,0.6,0.7,0.8,0.9,1],
                "tickSize": {"condition": {"test": "abs(log(datum.value)/LN10 - round(log(datum.value)/LN10)) < 0.01", "value": 5}, "value": 2.5}}}
          }
        }
      ]
    }
  ]
}
